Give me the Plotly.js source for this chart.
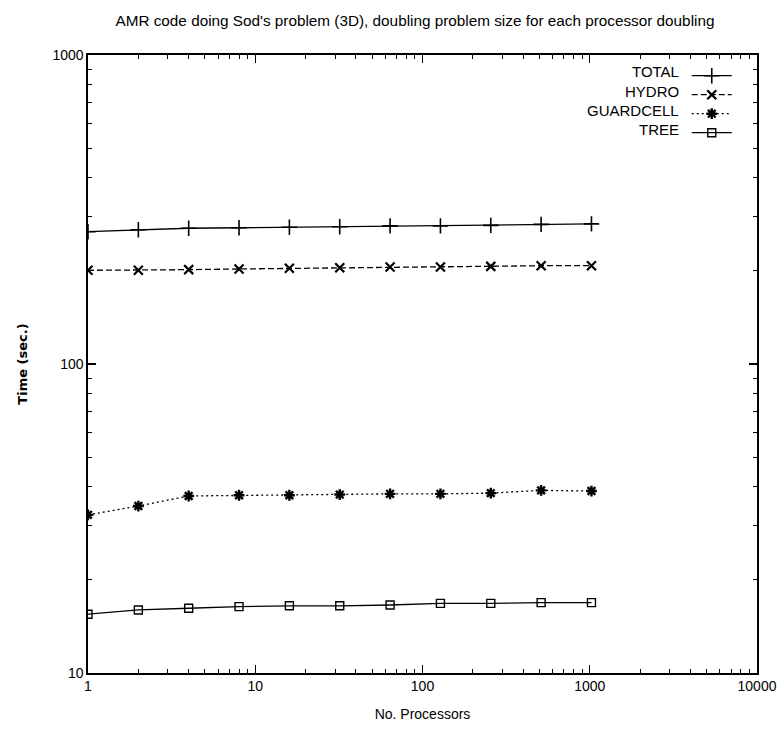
<!DOCTYPE html>
<html>
<head>
<meta charset="utf-8">
<script src="https://cdn.plot.ly/plotly-3.0.1.min.js"></script>
<style>html,body{margin:0;padding:0;background:#fff;}#chart{width:780px;height:730px;}</style>
</head>
<body>
<div id="chart"></div>
<script>
// Data
const processors = [1, 2, 4, 8, 16, 32, 64, 128, 256, 512, 1024];
const totalTime     = [268, 272, 275, 276, 277, 278, 280, 280, 281, 283, 284];
const hydroTime     = [201, 201, 202, 203, 204, 205, 206, 206, 207, 208, 208];
const guardcellTime = [32.5, 34.7, 37.4, 37.6, 37.6, 37.8, 38.0, 38.0, 38.2, 39.0, 38.8];
const treeTime      = [15.5, 16.0, 16.2, 16.4, 16.5, 16.5, 16.6, 16.8, 16.8, 16.9, 16.9];
const seriesNames = ["TOTAL", "HYDRO", "GUARDCELL", "TREE"];
const xTickVals = [1, 10, 100, 1000, 10000];
const xTickText = ["1", "10", "100", "1000", "10000"];
const yTickVals = [10, 100, 1000];
const yTickText = ["10", "100", "1000"];

const FONT = '"Liberation Sans", Arial, sans-serif';
const styles = [
  {dash: 'solid', symbol: 'cross-thin-open', size: 11, mw: 1.6},
  {dash: '6px,3px', symbol: 'x-thin-open', size: 9, mw: 2.2},
  {dash: '2px,3px', symbol: 'asterisk-open', size: 9, mw: 2.4},
  {dash: 'solid', symbol: 'square-open', size: 8, mw: 1.4}
];
const values = [totalTime, hydroTime, guardcellTime, treeTime];

const traces = values.map((v, i) => ({
  x: processors, y: v, name: seriesNames[i], type: 'scatter', mode: 'lines+markers',
  line: {color: '#000', width: 1.3, dash: styles[i].dash},
  marker: {symbol: styles[i].symbol, size: styles[i].size, color: '#000',
           line: {color: '#000', width: styles[i].mw}}
}));

const legendRowsY = [0.9725, 0.941, 0.910, 0.879];
const annotations = seriesNames.map((n, i) => ({
  xref: 'paper', yref: 'paper', x: 0.886, y: legendRowsY[i], xanchor: 'right', yanchor: 'middle',
  text: n, showarrow: false, font: {family: FONT, size: 15, color: '#000'}
}));

const axisCommon = {
  type: 'log', showgrid: false, zeroline: false, showline: true, linecolor: '#000', linewidth: 1.6,
  mirror: 'allticks', ticks: 'inside', ticklen: 8, tickwidth: 1.2, tickcolor: '#000',
  tickfont: {family: FONT, size: 14, color: '#000'},
  minor: {ticks: 'inside', ticklen: 4, tickwidth: 1, tickcolor: '#000', dtick: 'D1', showgrid: false}
};

const layout = {
  width: 780, height: 730,
  margin: {l: 88, r: 23, t: 55, b: 57},
  paper_bgcolor: '#fff', plot_bgcolor: '#fff',
  title: {text: "AMR code doing Sod's problem (3D), doubling problem size for each processor doubling",
          font: {family: FONT, size: 15.3, color: '#000'}, x: 0.532, xanchor: 'center', y: 0.972, yanchor: 'middle'},
  xaxis: Object.assign({}, axisCommon, {range: [0, 4], tickvals: xTickVals, ticktext: xTickText,
          title: {text: 'No. Processors', font: {family: FONT, size: 14, color: '#000'}, standoff: 16}}),
  yaxis: Object.assign({}, axisCommon, {range: [1, 3], tickvals: yTickVals, ticktext: yTickText,
          title: {text: '<b>Time (sec.)</b>', font: {family: 'DejaVu Sans, sans-serif', size: 13, color: '#000'}, standoff: 22}}),
  showlegend: true,
  legend: {x: 0.895, y: 0.99, xanchor: 'left', yanchor: 'top', bgcolor: 'rgba(0,0,0,0)', borderwidth: 0,
           font: {family: FONT, size: 1, color: 'rgba(0,0,0,0)'}, itemwidth: 40, tracegroupgap: 0},
  annotations: annotations
};

Plotly.newPlot('chart', traces, layout, {displayModeBar: false, staticPlot: true});
</script>
</body>
</html>
